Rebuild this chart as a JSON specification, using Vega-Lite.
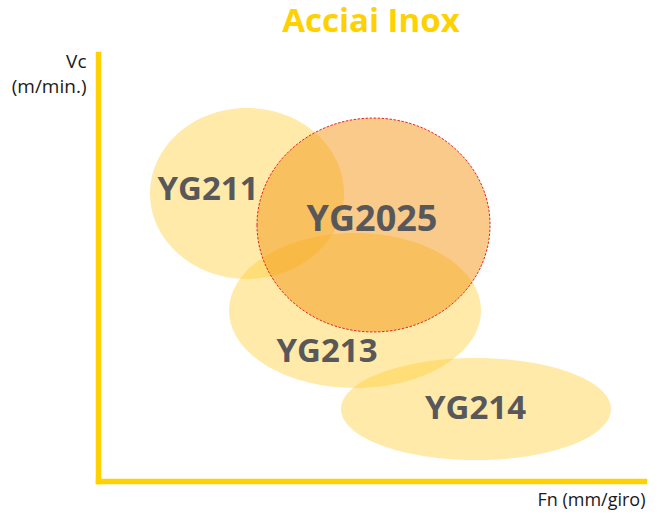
{
  "$schema": "https://vega.github.io/schema/vega-lite/v6.json",
  "width": 546,
  "height": 427,
  "autosize": {"type": "none"},
  "padding": {"left": 98, "top": 54, "right": 17, "bottom": 45},
  "background": "white",
  "config": {"view": {"stroke": null}},
  "title": {
    "text": "Acciai Inox",
    "color": "#FFD100",
    "font": "Open Sans",
    "fontSize": 33,
    "fontWeight": "bold",
    "anchor": "middle",
    "baseline": "alphabetic",
    "frame": "group",
    "offset": -13
  },
  "datasets": {
    "ellipses": [
      {"name": "YG211", "fn": 149, "vc": 287.5},
      {"name": "YG213", "fn": 257, "vc": 170.5},
      {"name": "YG214", "fn": 378, "vc": 72},
      {"name": "YG2025", "fn": 275.5, "vc": 256}
    ],
    "labels": [
      {"name": "YG211", "fn": 110, "vc": 281},
      {"name": "YG213", "fn": 229, "vc": 119.5},
      {"name": "YG214", "fn": 377.5, "vc": 62},
      {"name": "YG2025", "fn": 274, "vc": 250}
    ]
  },
  "encoding": {
    "x": {
      "field": "fn",
      "type": "quantitative",
      "scale": {"domain": [0, 546], "nice": false, "zero": false},
      "axis": {
        "title": "Fn (mm/giro)",
        "titleFont": "Open Sans",
        "titleFontSize": 18,
        "titleFontWeight": "normal",
        "titleColor": "#1a1a1a",
        "titleAlign": "right",
        "titleAnchor": null,
        "titleBaseline": "alphabetic",
        "titleX": 547,
        "titleY": 24,
        "domainColor": "#FFD100",
        "domainWidth": 5.5,
        "domainCap": "square",
        "ticks": false,
        "labels": false,
        "grid": false
      }
    },
    "y": {
      "field": "vc",
      "type": "quantitative",
      "scale": {"domain": [0, 427], "nice": false, "zero": false},
      "axis": {
        "title": ["Vc", "(m/min.)"],
        "titleFont": "Open Sans",
        "titleFontSize": 19,
        "titleFontWeight": "normal",
        "titleColor": "#1a1a1a",
        "titleAngle": 0,
        "titleAlign": "right",
        "titleAnchor": null,
        "titleBaseline": "alphabetic",
        "titleLineHeight": 25,
        "titleX": -12,
        "titleY": 13,
        "domainColor": "#FFD100",
        "domainWidth": 5.5,
        "domainCap": "square",
        "ticks": false,
        "labels": false,
        "grid": false
      }
    }
  },
  "layer": [
    {
      "data": {"name": "ellipses"},
      "transform": [{"filter": "datum.name === 'YG211'"}],
      "mark": {"type": "point", "filled": true, "shape": "M-1,0A1,0.881 0 1,0 1,0A1,0.881 0 1,0 -1,0", "size": 37636, "color": "#FFCA2A", "opacity": 0.4, "strokeWidth": 0}
    },
    {
      "data": {"name": "ellipses"},
      "transform": [{"filter": "datum.name === 'YG213'"}],
      "mark": {"type": "point", "filled": true, "shape": "M-1,0A1,0.615 0 1,0 1,0A1,0.615 0 1,0 -1,0", "size": 63504, "color": "#FFCA2A", "opacity": 0.4, "strokeWidth": 0}
    },
    {
      "data": {"name": "ellipses"},
      "transform": [{"filter": "datum.name === 'YG214'"}],
      "mark": {"type": "point", "filled": true, "shape": "M-1,0A1,0.378 0 1,0 1,0A1,0.378 0 1,0 -1,0", "size": 72900, "color": "#FFCA2A", "opacity": 0.4, "strokeWidth": 0}
    },
    {
      "data": {"name": "ellipses"},
      "transform": [{"filter": "datum.name === 'YG2025'"}],
      "mark": {"type": "point", "filled": true, "shape": "M-1,0A1,0.918 0 1,0 1,0A1,0.918 0 1,0 -1,0", "size": 54289, "color": "#F39614", "opacity": 0.5, "strokeWidth": 0}
    },
    {
      "data": {"name": "ellipses"},
      "transform": [{"filter": "datum.name === 'YG2025'"}],
      "mark": {"type": "point", "filled": false, "shape": "M-1,0A1,0.918 0 1,0 1,0A1,0.918 0 1,0 -1,0", "size": 54289, "stroke": "#E8262A", "opacity": 1, "strokeWidth": 1, "strokeDash": [2.5, 1.5]}
    },
    {
      "data": {"name": "labels"},
      "transform": [{"filter": "datum.name !== 'YG2025'"}],
      "mark": {"type": "text", "font": "Open Sans", "fontWeight": "bold", "fontSize": 33, "color": "#58585A", "align": "center", "baseline": "alphabetic"},
      "encoding": {"text": {"field": "name"}}
    },
    {
      "data": {"name": "labels"},
      "transform": [{"filter": "datum.name === 'YG2025'"}],
      "mark": {"type": "text", "font": "Open Sans", "fontWeight": "bold", "fontSize": 36, "color": "#58585A", "align": "center", "baseline": "alphabetic"},
      "encoding": {"text": {"field": "name"}}
    }
  ]
}
